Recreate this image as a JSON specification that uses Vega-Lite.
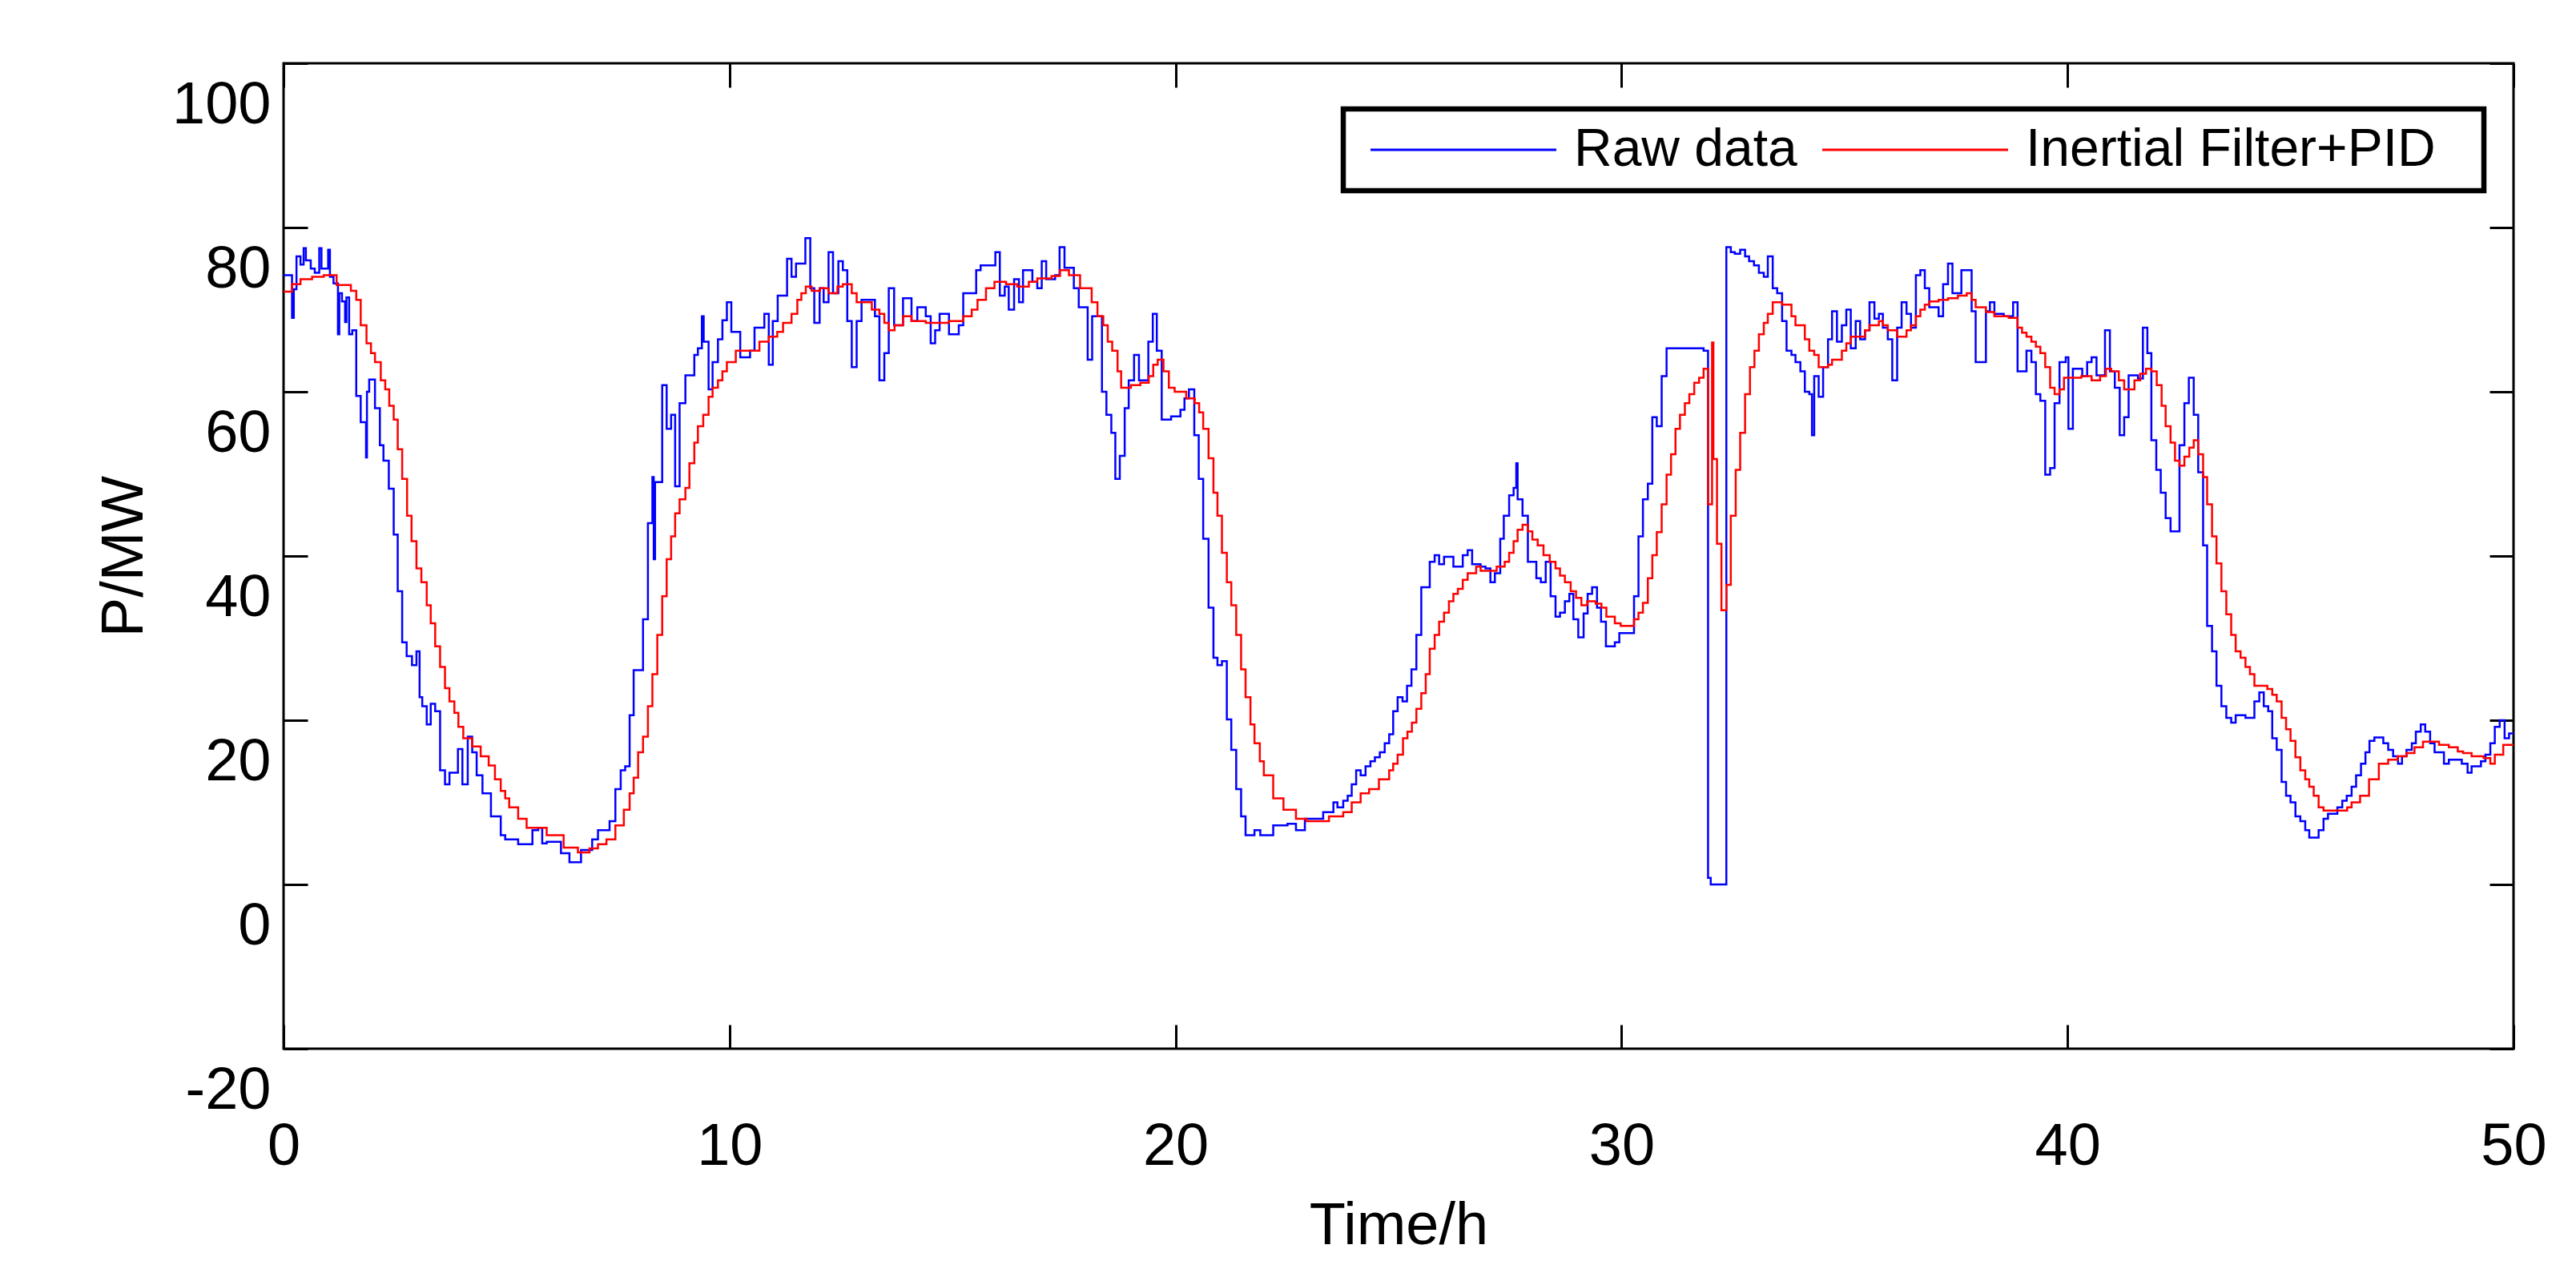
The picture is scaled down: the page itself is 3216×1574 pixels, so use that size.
{
  "$schema": "https://vega.github.io/schema/vega-lite/v6.json",
  "width": 2784,
  "height": 1230,
  "autosize": "none",
  "padding": {"left": 354, "top": 79, "right": 78, "bottom": 265},
  "background": "white",
  "config": {
    "font": "Liberation Sans",
    "view": {"stroke": "black", "strokeWidth": 3},
    "axis": {"grid": false, "domain": false, "tickColor": "black", "tickWidth": 3, "tickSize": -30, "labelColor": "black", "titleColor": "black", "labelFont": "Liberation Sans", "titleFont": "Liberation Sans", "labelFontSize": 74, "titleFontSize": 74, "titleFontWeight": "normal", "labelFlush": false, "labelOverlap": false, "labelBound": false},
    "legend": {"strokeColor": "black", "strokeWidth": 6.5, "fillColor": "white"}
  },
  "datasets": {
    "raw": [
      {"t":0,"v":74.2},{"t":0.19,"v":69},{"t":0.23,"v":72.5},{"t":0.29,"v":76.5},{"t":0.38,"v":75.5},{"t":0.45,"v":77.5},{"t":0.5,"v":76},{"t":0.61,"v":75},{"t":0.7,"v":74.5},{"t":0.8,"v":77.5},{"t":0.85,"v":75},{"t":1.0,"v":77.3},{"t":1.04,"v":74},{"t":1.12,"v":73.2},{"t":1.22,"v":67},{"t":1.25,"v":72},{"t":1.31,"v":71},{"t":1.38,"v":68.5},{"t":1.41,"v":71.5},{"t":1.47,"v":67},{"t":1.54,"v":67.5},{"t":1.63,"v":59.5},{"t":1.73,"v":56.3},{"t":1.85,"v":52},{"t":1.87,"v":60},{"t":1.92,"v":61.5},{"t":2.05,"v":58},{"t":2.16,"v":53.5},{"t":2.24,"v":51.6},{"t":2.36,"v":48.2},{"t":2.47,"v":42.6},{"t":2.56,"v":35.7},{"t":2.66,"v":29.5},{"t":2.76,"v":27.8},{"t":2.88,"v":26.7},{"t":2.98,"v":28.4},{"t":3.05,"v":22.8},{"t":3.11,"v":21.7},{"t":3.21,"v":19.5},{"t":3.3,"v":22},{"t":3.4,"v":21.1},{"t":3.51,"v":13.9},{"t":3.62,"v":12.2},{"t":3.72,"v":13.6},{"t":3.91,"v":16.5},{"t":4.01,"v":12.2},{"t":4.13,"v":18},{"t":4.23,"v":16.1},{"t":4.33,"v":13.3},{"t":4.46,"v":11.1},{"t":4.65,"v":8.3},{"t":4.87,"v":6},{"t":4.97,"v":5.5},{"t":5.26,"v":4.9},{"t":5.58,"v":6.6},{"t":5.71,"v":6.9},{"t":5.8,"v":5},{"t":5.9,"v":5.2},{"t":6.22,"v":3.8},{"t":6.41,"v":2.7},{"t":6.67,"v":4.2},{"t":6.92,"v":5.5},{"t":7.05,"v":6.6},{"t":7.31,"v":7.7},{"t":7.44,"v":11.6},{"t":7.56,"v":13.9},{"t":7.66,"v":14.4},{"t":7.76,"v":20.6},{"t":7.85,"v":26.1},{"t":8.06,"v":32.3},{"t":8.17,"v":44},{"t":8.27,"v":49.6},{"t":8.3,"v":39.6},{"t":8.33,"v":49},{"t":8.49,"v":60.8},{"t":8.59,"v":55.5},{"t":8.69,"v":57.2},{"t":8.78,"v":48.5},{"t":8.88,"v":58.6},{"t":9.01,"v":62},{"t":9.21,"v":64.5},{"t":9.29,"v":65.3},{"t":9.38,"v":69.2},{"t":9.42,"v":66.1},{"t":9.53,"v":60.3},{"t":9.62,"v":63.6},{"t":9.74,"v":66.4},{"t":9.84,"v":68.7},{"t":9.94,"v":70.9},
      {"t":10.04,"v":67.3},{"t":10.24,"v":64.2},{"t":10.46,"v":65},{"t":10.56,"v":67.8},{"t":10.78,"v":69.5},{"t":10.88,"v":63.3},{"t":10.97,"v":68.6},{"t":11.08,"v":71.7},{"t":11.29,"v":76.2},{"t":11.39,"v":74},{"t":11.49,"v":75.6},{"t":11.7,"v":78.7},{"t":11.81,"v":72.6},{"t":11.9,"v":68.4},{"t":12.02,"v":72.6},{"t":12.11,"v":70.9},{"t":12.22,"v":77},{"t":12.32,"v":72},{"t":12.44,"v":75.9},{"t":12.54,"v":74.8},{"t":12.64,"v":68.6},{"t":12.74,"v":63},{"t":12.85,"v":68.6},{"t":12.96,"v":71.2},{"t":13.26,"v":69.2},{"t":13.36,"v":61.4},{"t":13.47,"v":64.7},{"t":13.57,"v":72.6},{"t":13.69,"v":68.1},{"t":13.89,"v":71.4},{"t":14.08,"v":68.6},{"t":14.21,"v":70.3},{"t":14.4,"v":69.2},{"t":14.51,"v":65.9},{"t":14.61,"v":67.5},{"t":14.71,"v":69.5},{"t":14.92,"v":67},{"t":15.14,"v":68.1},{"t":15.24,"v":72},{"t":15.53,"v":74.8},{"t":15.63,"v":75.4},{"t":15.96,"v":77},{"t":16.06,"v":71.7},{"t":16.17,"v":72.8},{"t":16.26,"v":70},{"t":16.38,"v":73.7},{"t":16.49,"v":70.9},{"t":16.58,"v":74.8},{"t":16.79,"v":73.4},{"t":16.9,"v":72.6},{"t":17.0,"v":75.9},{"t":17.1,"v":73.7},{"t":17.3,"v":74.2},{"t":17.4,"v":77.6},{"t":17.51,"v":75.1},{"t":17.72,"v":72.6},{"t":17.83,"v":70.3},{"t":18.03,"v":63.9},{"t":18.13,"v":69.2},{"t":18.35,"v":60},{"t":18.45,"v":57.2},{"t":18.56,"v":55},{"t":18.65,"v":49.4},{"t":18.75,"v":52.2},{"t":18.86,"v":58},{"t":18.95,"v":61.4},{"t":19.07,"v":64.5},{"t":19.18,"v":61.4},{"t":19.39,"v":66.1},{"t":19.49,"v":69.5},{"t":19.58,"v":65},{"t":19.69,"v":56.6},{"t":19.9,"v":57},
      {"t":20.11,"v":57.8},{"t":20.2,"v":59.2},{"t":20.3,"v":60.3},{"t":20.42,"v":54.7},{"t":20.52,"v":49.4},{"t":20.62,"v":42.1},{"t":20.74,"v":33.7},{"t":20.85,"v":27.6},{"t":20.94,"v":26.7},{"t":21.04,"v":27.2},{"t":21.15,"v":20.1},{"t":21.25,"v":16.4},{"t":21.36,"v":11.6},{"t":21.47,"v":8.3},{"t":21.57,"v":6},{"t":21.77,"v":6.6},{"t":21.9,"v":6},{"t":22.19,"v":7.2},{"t":22.51,"v":7.4},{"t":22.7,"v":6.6},{"t":22.9,"v":8},{"t":23.31,"v":8.8},{"t":23.54,"v":10},{"t":23.63,"v":9.4},{"t":23.76,"v":10.2},{"t":23.86,"v":10.8},{"t":23.95,"v":12.2},{"t":24.05,"v":13.9},{"t":24.15,"v":13.3},{"t":24.26,"v":14.4},{"t":24.37,"v":15},{"t":24.47,"v":15.5},{"t":24.58,"v":16.1},{"t":24.69,"v":17.2},{"t":24.79,"v":18.3},{"t":24.88,"v":21.1},{"t":24.98,"v":22.8},{"t":25.09,"v":22.3},{"t":25.19,"v":24.2},{"t":25.29,"v":26.2},{"t":25.4,"v":30.4},{"t":25.51,"v":36.2},{"t":25.7,"v":39.3},{"t":25.81,"v":40.1},{"t":25.91,"v":39},{"t":26.02,"v":39.9},{"t":26.23,"v":38.7},{"t":26.44,"v":40.1},{"t":26.55,"v":40.7},{"t":26.65,"v":39},{"t":26.84,"v":38.7},{"t":26.95,"v":38.5},{"t":27.06,"v":36.8},{"t":27.16,"v":37.9},{"t":27.28,"v":42.1},{"t":27.36,"v":44.9},{"t":27.48,"v":47.4},{"t":27.58,"v":48.3},{"t":27.64,"v":51.3},{"t":27.67,"v":46.9},{"t":27.78,"v":44.9},{"t":27.9,"v":39.3},{"t":28.09,"v":37.3},{"t":28.19,"v":36.8},{"t":28.3,"v":39.3},{"t":28.41,"v":35.1},{"t":28.52,"v":32.6},{"t":28.62,"v":33.1},{"t":28.73,"v":34.5},{"t":28.83,"v":35.4},{"t":28.92,"v":32.3},{"t":29.03,"v":30.1},{"t":29.15,"v":33},{"t":29.24,"v":35.4},{"t":29.34,"v":36.2},{"t":29.45,"v":33.7},{"t":29.54,"v":32},{"t":29.65,"v":29},{"t":29.85,"v":29.5},{"t":29.95,"v":30.6},
      {"t":30.28,"v":35.1},{"t":30.38,"v":42.4},{"t":30.48,"v":46.9},{"t":30.59,"v":48.8},{"t":30.69,"v":56.9},{"t":30.79,"v":55.8},{"t":30.9,"v":61.9},{"t":31.01,"v":65.3},{"t":31.84,"v":65},{"t":31.94,"v":0.8},{"t":32.0,"v":0},{"t":32.35,"v":77.6},{"t":32.45,"v":77},{"t":32.54,"v":76.8},{"t":32.66,"v":77.3},{"t":32.77,"v":76.5},{"t":32.86,"v":75.9},{"t":32.97,"v":75.4},{"t":33.08,"v":74.5},{"t":33.19,"v":74},{"t":33.28,"v":76.5},{"t":33.39,"v":72.6},{"t":33.49,"v":72},{"t":33.6,"v":68.6},{"t":33.7,"v":65},{"t":33.81,"v":64.5},{"t":33.9,"v":63.6},{"t":34.01,"v":62.5},{"t":34.11,"v":60},{"t":34.21,"v":59.7},{"t":34.27,"v":54.7},{"t":34.32,"v":61.9},{"t":34.42,"v":59.4},{"t":34.52,"v":63},{"t":34.63,"v":66.4},{"t":34.72,"v":69.8},{"t":34.83,"v":66.1},{"t":34.94,"v":68.1},{"t":35.04,"v":70},{"t":35.14,"v":65.3},{"t":35.25,"v":68.6},{"t":35.35,"v":66.4},{"t":35.46,"v":67.5},{"t":35.56,"v":70.9},{"t":35.67,"v":68.9},{"t":35.77,"v":69.5},{"t":35.86,"v":67.8},{"t":35.97,"v":66.4},{"t":36.07,"v":61.4},{"t":36.18,"v":67.8},{"t":36.28,"v":70.9},{"t":36.39,"v":69.5},{"t":36.49,"v":67.8},{"t":36.6,"v":74.2},{"t":36.7,"v":74.8},{"t":36.8,"v":72.6},{"t":36.9,"v":70.3},{"t":37.11,"v":69.2},{"t":37.21,"v":73.1},{"t":37.32,"v":75.6},{"t":37.42,"v":72},{"t":37.62,"v":74.8},{"t":37.85,"v":69.8},{"t":37.94,"v":63.6},{"t":38.17,"v":69.8},{"t":38.26,"v":70.9},{"t":38.36,"v":69.5},{"t":38.57,"v":69.2},{"t":38.78,"v":70.9},{"t":38.88,"v":62.5},{"t":39.08,"v":65},{"t":39.19,"v":63.6},{"t":39.29,"v":59.7},{"t":39.39,"v":58.9},{"t":39.5,"v":49.9},{"t":39.61,"v":50.7},{"t":39.71,"v":58.6},{"t":39.82,"v":63.6},
      {"t":39.96,"v":64.2},{"t":40.02,"v":55.5},{"t":40.12,"v":62.8},{"t":40.33,"v":61.9},{"t":40.44,"v":63.6},{"t":40.54,"v":64.2},{"t":40.65,"v":62},{"t":40.84,"v":67.5},{"t":40.95,"v":62.5},{"t":41.06,"v":60.5},{"t":41.17,"v":54.7},{"t":41.27,"v":56.9},{"t":41.37,"v":62},{"t":41.58,"v":61.6},{"t":41.69,"v":67.8},{"t":41.79,"v":64.7},{"t":41.88,"v":54.1},{"t":41.99,"v":50.5},{"t":42.09,"v":47.7},{"t":42.2,"v":44.6},{"t":42.31,"v":43},{"t":42.51,"v":53.5},{"t":42.62,"v":58.6},{"t":42.72,"v":61.7},{"t":42.83,"v":57.2},{"t":42.93,"v":50.2},{"t":43.04,"v":41.3},{"t":43.13,"v":31.5},{"t":43.24,"v":28.4},{"t":43.34,"v":24.2},{"t":43.45,"v":21.7},{"t":43.56,"v":20.3},{"t":43.67,"v":19.7},{"t":43.77,"v":20.6},{"t":43.99,"v":20.3},{"t":44.19,"v":22.3},{"t":44.3,"v":23.4},{"t":44.4,"v":21.7},{"t":44.5,"v":21.1},{"t":44.59,"v":17.8},{"t":44.69,"v":16.4},{"t":44.8,"v":12.5},{"t":44.9,"v":10.8},{"t":45.0,"v":10},{"t":45.11,"v":8.3},{"t":45.22,"v":7.7},{"t":45.33,"v":6.6},{"t":45.42,"v":5.7},{"t":45.63,"v":6.6},{"t":45.74,"v":8},{"t":45.84,"v":8.6},{"t":46.05,"v":9.4},{"t":46.16,"v":10.2},{"t":46.26,"v":10.8},{"t":46.37,"v":11.9},{"t":46.47,"v":13.3},{"t":46.58,"v":14.7},{"t":46.68,"v":16.1},{"t":46.77,"v":17.5},{"t":46.88,"v":17.9},{"t":47.08,"v":17.2},{"t":47.19,"v":16.4},{"t":47.3,"v":15.6},{"t":47.41,"v":14.7},{"t":47.5,"v":15.6},{"t":47.6,"v":16.4},{"t":47.72,"v":17.2},{"t":47.81,"v":18.6},{"t":47.92,"v":19.5},{"t":48.02,"v":18.6},{"t":48.13,"v":17.2},{"t":48.23,"v":16.1},{"t":48.44,"v":14.7},{"t":48.55,"v":15.2},{"t":48.84,"v":14.7},{"t":48.97,"v":13.6},{"t":49.06,"v":14.4},{"t":49.27,"v":15},{"t":49.37,"v":15.8},{"t":49.48,"v":17.2},{"t":49.58,"v":19.2},{"t":49.69,"v":20},{"t":49.8,"v":17.8},{"t":49.9,"v":18.4},{"t":50,"v":18.4}
    ],
    "pid": [
      {"t":0,"v":72.2},{"t":0.19,"v":73.1},{"t":0.38,"v":73.7},{"t":0.64,"v":74},{"t":0.9,"v":74.2},{"t":1.19,"v":73},{"t":1.51,"v":72.3},{"t":1.63,"v":71.2},{"t":1.73,"v":68.1},{"t":1.86,"v":65.9},{"t":1.96,"v":64.7},{"t":2.05,"v":63.6},{"t":2.18,"v":61.4},{"t":2.28,"v":60.3},{"t":2.37,"v":58.3},{"t":2.47,"v":56.6},{"t":2.56,"v":53},{"t":2.66,"v":49.4},{"t":2.77,"v":44.9},{"t":2.87,"v":41.8},{"t":2.98,"v":38.5},{"t":3.09,"v":36.8},{"t":3.21,"v":34},{"t":3.3,"v":31.8},{"t":3.4,"v":29},{"t":3.51,"v":26.5},{"t":3.62,"v":23.9},{"t":3.72,"v":22.3},{"t":3.83,"v":20.9},{"t":3.92,"v":19.2},{"t":4.03,"v":17.8},{"t":4.23,"v":16.8},{"t":4.42,"v":15.6},{"t":4.6,"v":14.5},{"t":4.74,"v":12.8},{"t":4.87,"v":11.4},{"t":4.97,"v":10.5},{"t":5.06,"v":9.4},{"t":5.26,"v":8},{"t":5.45,"v":6.9},{"t":5.9,"v":6},{"t":6.28,"v":4.5},{"t":6.6,"v":3.9},{"t":6.86,"v":4.4},{"t":7.05,"v":4.9},{"t":7.24,"v":5.5},{"t":7.44,"v":7.2},{"t":7.63,"v":9.1},{"t":7.76,"v":11.1},{"t":7.85,"v":13},{"t":7.95,"v":16.1},{"t":8.06,"v":18},{"t":8.17,"v":21.7},{"t":8.27,"v":25.6},{"t":8.38,"v":30.4},{"t":8.49,"v":35.1},{"t":8.59,"v":39.6},{"t":8.69,"v":42.4},{"t":8.78,"v":45.2},{"t":8.88,"v":46.9},{"t":9.01,"v":48.3},{"t":9.1,"v":51.3},{"t":9.21,"v":53.8},{"t":9.29,"v":55.8},{"t":9.41,"v":57.2},{"t":9.53,"v":59.4},{"t":9.62,"v":60.5},{"t":9.74,"v":61.4},{"t":9.84,"v":62.5},{"t":9.94,"v":63.6},
      {"t":10.14,"v":65},{"t":10.67,"v":66.1},{"t":10.88,"v":66.7},{"t":11.07,"v":67.3},{"t":11.2,"v":68.4},{"t":11.39,"v":69.5},{"t":11.52,"v":71.2},{"t":11.61,"v":72},{"t":11.71,"v":72.8},{"t":11.84,"v":72.3},{"t":12.03,"v":72.6},{"t":12.22,"v":72},{"t":12.42,"v":72.8},{"t":12.54,"v":73.1},{"t":12.74,"v":72},{"t":12.85,"v":70.9},{"t":13.19,"v":70},{"t":13.36,"v":69.5},{"t":13.47,"v":68.4},{"t":13.57,"v":67.5},{"t":13.7,"v":68.1},{"t":13.89,"v":69.2},{"t":14.08,"v":68.6},{"t":14.4,"v":68.4},{"t":14.92,"v":68.6},{"t":15.24,"v":69.2},{"t":15.43,"v":70},{"t":15.56,"v":71.2},{"t":15.75,"v":72.6},{"t":15.94,"v":73.4},{"t":16.2,"v":73.1},{"t":16.45,"v":72.8},{"t":16.71,"v":73.4},{"t":16.9,"v":73.8},{"t":17.22,"v":74.1},{"t":17.41,"v":74.8},{"t":17.61,"v":74.2},{"t":17.86,"v":72.6},{"t":18.12,"v":70.9},{"t":18.25,"v":69.2},{"t":18.38,"v":68.1},{"t":18.48,"v":66.1},{"t":18.58,"v":65},{"t":18.7,"v":62.5},{"t":18.78,"v":60.5},{"t":19.0,"v":60.8},{"t":19.21,"v":61.1},{"t":19.4,"v":61.9},{"t":19.5,"v":63.3},{"t":19.6,"v":63.9},{"t":19.73,"v":62.5},{"t":19.85,"v":60.5},
      {"t":19.98,"v":60},{"t":20.24,"v":59.2},{"t":20.43,"v":58.6},{"t":20.53,"v":57.5},{"t":20.62,"v":55.5},{"t":20.74,"v":51.9},{"t":20.85,"v":47.7},{"t":20.94,"v":44.9},{"t":21.04,"v":40.4},{"t":21.15,"v":36.8},{"t":21.25,"v":34},{"t":21.36,"v":30.4},{"t":21.47,"v":26.2},{"t":21.57,"v":22.8},{"t":21.68,"v":19.5},{"t":21.77,"v":17.2},{"t":21.89,"v":15},{"t":21.98,"v":13.3},{"t":22.19,"v":10.5},{"t":22.42,"v":9.1},{"t":22.7,"v":8},{"t":22.93,"v":7.7},{"t":23.44,"v":8.3},{"t":23.76,"v":8.8},{"t":23.95,"v":10},{"t":24.15,"v":11.1},{"t":24.34,"v":11.6},{"t":24.56,"v":12.8},{"t":24.79,"v":13.9},{"t":24.88,"v":14.7},{"t":24.98,"v":15.8},{"t":25.1,"v":17.8},{"t":25.2,"v":18.6},{"t":25.3,"v":19.7},{"t":25.4,"v":21.4},{"t":25.51,"v":23.3},{"t":25.61,"v":25.6},{"t":25.7,"v":28.7},{"t":25.81,"v":30.4},{"t":25.91,"v":32},{"t":26.02,"v":33.1},{"t":26.13,"v":34.5},{"t":26.23,"v":35.4},{"t":26.33,"v":36},{"t":26.44,"v":37.1},{"t":26.55,"v":37.9},{"t":26.74,"v":38.7},{"t":26.84,"v":38.2},{"t":27.2,"v":38.7},{"t":27.38,"v":39.3},{"t":27.48,"v":40.4},{"t":27.58,"v":41.8},{"t":27.67,"v":43.2},{"t":27.78,"v":43.8},{"t":27.9,"v":43},{"t":28.0,"v":42},{"t":28.12,"v":41.3},{"t":28.25,"v":40.1},{"t":28.39,"v":39.3},{"t":28.52,"v":38.5},{"t":28.62,"v":37.6},{"t":28.73,"v":36.8},{"t":28.86,"v":35.7},{"t":28.98,"v":34.9},{"t":29.1,"v":34},{"t":29.23,"v":34.5},{"t":29.42,"v":34.2},{"t":29.55,"v":33.7},{"t":29.66,"v":32.6},{"t":29.85,"v":31.8},
      {"t":29.98,"v":31.5},{"t":30.28,"v":32.3},{"t":30.38,"v":33.1},{"t":30.48,"v":34.3},{"t":30.59,"v":37.3},{"t":30.69,"v":40.1},{"t":30.79,"v":42.9},{"t":30.9,"v":46.3},{"t":31.01,"v":49.9},{"t":31.11,"v":52.4},{"t":31.21,"v":55.5},{"t":31.31,"v":57.2},{"t":31.42,"v":58.6},{"t":31.52,"v":59.7},{"t":31.63,"v":61.1},{"t":31.74,"v":61.7},{"t":31.84,"v":62.8},{"t":31.94,"v":46.3},{"t":32.03,"v":66},{"t":32.06,"v":51.8},{"t":32.14,"v":41.5},{"t":32.24,"v":33.4},{"t":32.35,"v":36.5},{"t":32.45,"v":44.9},{"t":32.56,"v":50.5},{"t":32.66,"v":55},{"t":32.77,"v":59.7},{"t":32.88,"v":63},{"t":32.98,"v":65},{"t":33.08,"v":67},{"t":33.19,"v":68.4},{"t":33.28,"v":69.5},{"t":33.39,"v":70.9},{"t":33.6,"v":70.6},{"t":33.81,"v":69.2},{"t":33.9,"v":68.1},{"t":34.11,"v":66.4},{"t":34.21,"v":65},{"t":34.32,"v":64.5},{"t":34.42,"v":63},{"t":34.63,"v":63.3},{"t":34.72,"v":63.9},{"t":34.94,"v":65},{"t":35.04,"v":65.9},{"t":35.14,"v":66.7},{"t":35.46,"v":67.5},{"t":35.56,"v":68.1},{"t":35.77,"v":68.6},{"t":35.86,"v":68.1},{"t":35.97,"v":67.5},{"t":36.18,"v":66.7},{"t":36.39,"v":67.5},{"t":36.49,"v":68.1},{"t":36.6,"v":69.2},{"t":36.7,"v":70},{"t":36.8,"v":70.6},{"t":36.9,"v":71},{"t":37.11,"v":71.2},{"t":37.32,"v":71.4},{"t":37.54,"v":71.7},{"t":37.74,"v":72},{"t":37.85,"v":71.2},{"t":37.94,"v":70.3},{"t":38.17,"v":69.7},{"t":38.36,"v":69.2},{"t":38.68,"v":69},{"t":38.88,"v":67.8},{"t":38.98,"v":67.2},{"t":39.08,"v":66.7},{"t":39.19,"v":66.1},{"t":39.29,"v":65.5},{"t":39.39,"v":64.7},{"t":39.5,"v":63},{"t":39.61,"v":60.5},{"t":39.71,"v":59.7},{"t":39.82,"v":60.3},{"t":39.92,"v":61.7},
      {"t":40.12,"v":61.7},{"t":40.31,"v":61.9},{"t":40.54,"v":61.4},{"t":40.73,"v":61.9},{"t":40.86,"v":62.8},{"t":40.98,"v":62.5},{"t":41.15,"v":61.4},{"t":41.27,"v":60.3},{"t":41.5,"v":61.4},{"t":41.63,"v":62.2},{"t":41.76,"v":62.8},{"t":41.88,"v":62.5},{"t":42.0,"v":60.8},{"t":42.11,"v":58.3},{"t":42.2,"v":55.8},{"t":42.31,"v":53.8},{"t":42.41,"v":51.6},{"t":42.51,"v":51},{"t":42.62,"v":52.1},{"t":42.73,"v":53.2},{"t":42.83,"v":54.1},{"t":42.93,"v":52.4},{"t":43.04,"v":49.6},{"t":43.13,"v":46.3},{"t":43.24,"v":42.4},{"t":43.34,"v":39.1},{"t":43.45,"v":35.7},{"t":43.56,"v":32.9},{"t":43.67,"v":30.4},{"t":43.77,"v":28.4},{"t":43.88,"v":27.6},{"t":43.99,"v":26.5},{"t":44.09,"v":25.6},{"t":44.19,"v":24.2},{"t":44.48,"v":23.8},{"t":44.59,"v":23.1},{"t":44.69,"v":22.3},{"t":44.8,"v":20.3},{"t":44.9,"v":18.9},{"t":45.0,"v":17.5},{"t":45.11,"v":15.5},{"t":45.22,"v":13.9},{"t":45.33,"v":12.8},{"t":45.42,"v":11.9},{"t":45.52,"v":10.8},{"t":45.63,"v":9.4},{"t":45.74,"v":9},{"t":46.27,"v":9.4},{"t":46.37,"v":10},{"t":46.56,"v":10.8},{"t":46.76,"v":12.8},{"t":46.98,"v":14.7},{"t":47.19,"v":15.2},{"t":47.4,"v":15.6},{"t":47.6,"v":16},{"t":47.78,"v":16.7},{"t":47.97,"v":17.4},{"t":48.33,"v":17},{"t":48.55,"v":16.7},{"t":48.75,"v":16.2},{"t":48.87,"v":16},{"t":49.06,"v":15.6},{"t":49.33,"v":15.4},{"t":49.48,"v":14.7},{"t":49.58,"v":15.8},{"t":49.77,"v":17},{"t":50,"v":17}
    ]
  },
  "layer": [
    {
      "data": {"name": "raw"},
      "mark": {"type": "line", "interpolate": "step-after", "strokeWidth": 2.5, "clip": true},
      "encoding": {
        "x": {"field": "t", "type": "quantitative", "scale": {"domain": [0, 50], "nice": false, "zero": false},
          "axis": {"title": "Time/h", "values": [0, 10, 20, 30, 40, 50], "labelPadding": 116, "titlePadding": 26}},
        "y": {"field": "v", "type": "quantitative", "scale": {"domain": [-20, 100], "nice": false, "zero": false},
          "axis": {"title": "P/MW", "values": [-20, 0, 20, 40, 60, 80, 100], "labelExpr": "datum.value + ''", "labelPadding": 46, "labelOffset": 52, "titlePadding": 21}},
        "color": {"datum": "Raw data", "type": "nominal",
          "scale": {"domain": ["Raw data", "Inertial Filter+PID"], "range": ["#0000ff", "#ff0000"]},
          "legend": {"title": " ", "titleOrient": "right", "titleFontSize": 8, "titlePadding": 42,
            "orient": "none", "legendX": 1323, "legendY": 57, "direction": "horizontal",
            "symbolType": "M-5,0H5", "symbolSize": 2153, "symbolStrokeWidth": 3, "symbolOffset": 99,
            "labelFontSize": 66, "labelFont": "Liberation Sans", "labelColor": "black", "labelOffset": 105, "labelLimit": 0,
            "columnPadding": 15, "padding": 18}}
      }
    },
    {
      "data": {"name": "pid"},
      "mark": {"type": "line", "interpolate": "step-after", "strokeWidth": 2.5, "clip": true},
      "encoding": {
        "x": {"field": "t", "type": "quantitative", "axis": {"orient": "top", "title": null, "labels": false, "values": [0, 10, 20, 30, 40, 50]}},
        "y": {"field": "v", "type": "quantitative", "axis": {"orient": "right", "title": null, "labels": false, "values": [-20, 0, 20, 40, 60, 80, 100]}},
        "color": {"datum": "Inertial Filter+PID", "type": "nominal"}
      }
    }
  ],
  "resolve": {"axis": {"x": "independent", "y": "independent"}}
}
